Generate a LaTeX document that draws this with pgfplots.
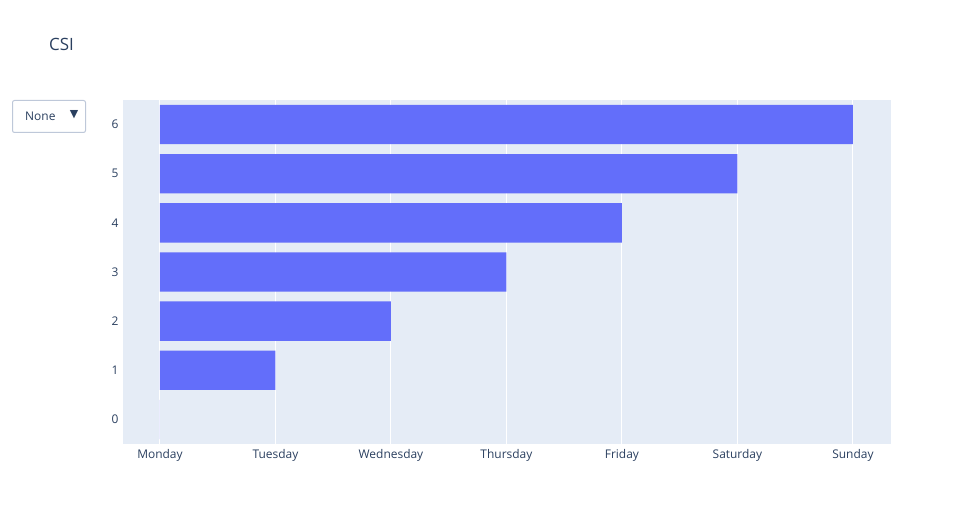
\documentclass[border=0pt]{standalone}
\usepackage{pgfplots}
\pgfplotsset{compat=1.18}
\usepackage{fontspec}
\setmainfont{Open Sans}
\newfontfamily\symfont{DejaVu Sans}
\definecolor{bgc}{HTML}{E5ECF6}
\definecolor{txt}{HTML}{2A3F5F}
\definecolor{barc}{HTML}{636EFA}
\definecolor{brd}{HTML}{BEC8D9}
\begin{document}
\begin{tikzpicture}[x=1bp,y=1bp]
\path (0,0) rectangle (971,525);
\node[anchor=west,text=txt,font=\fontsize{17}{20}\selectfont,inner sep=0] at (49,481) {CSI};
\draw[brd,fill=white,line width=1bp,rounded corners=2bp] (12.5,392.5) rectangle (85.5,424.5);
\node[anchor=west,text=txt,font=\fontsize{12}{14}\selectfont,inner sep=0] at (25,409) {None};
\node[anchor=center,text=txt,font=\fontsize{11}{13}\symfont,inner sep=0] at (74,410) {▼};
\begin{axis}[
  at={(123bp,81bp)}, anchor=south west,
  scale only axis, width=768bp, height=344bp,
  xmin=-0.32, xmax=6.33, ymin=-0.5, ymax=6.5,
  axis background/.style={fill=bgc},
  axis line style={draw=none},
  major tick length=0pt,
  xtick={0,1,2,3,4,5,6},
  xticklabels={Monday,Tuesday,Wednesday,Thursday,Friday,Saturday,Sunday},
  ytick={0,1,2,3,4,5,6},
  xmajorgrids, grid style={white, line width=1bp},
  ticklabel style={text=txt,font=\fontsize{12}{14}\selectfont},
  /pgf/number format/assume math mode=true,
  xticklabel style={yshift=-2bp},
  yticklabel style={xshift=-1bp},
  xbar, bar width=0.8, bar shift=0pt,
  axis on top=false,
  clip=false,
]
\addplot[fill=barc, draw=none] coordinates {(0,0) (1,1) (2,2) (3,3) (4,4) (5,5) (6,6)};
\end{axis}
\end{tikzpicture}
\end{document}
